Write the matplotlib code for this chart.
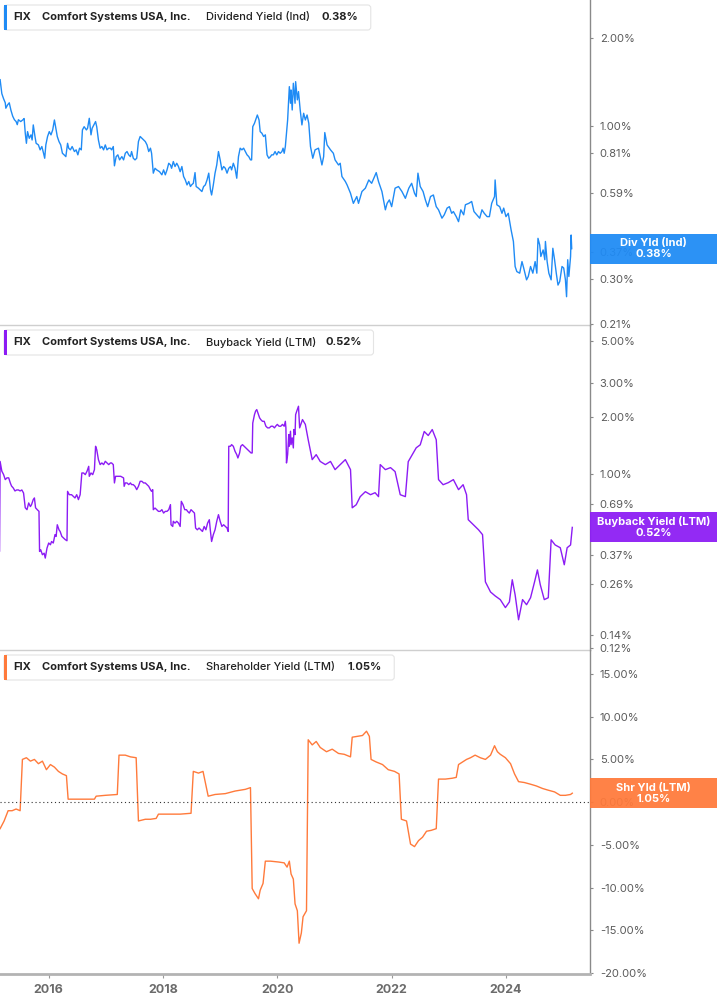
import matplotlib.pyplot as plt
from matplotlib.patches import FancyBboxPatch, Rectangle
from matplotlib.transforms import IdentityTransform
from matplotlib.ticker import NullLocator

plt.rcParams['font.family'] = ['Inter', 'DejaVu Sans']

# ---------------- DATA ----------------
# dividend yield (Ind), %, dates as decimal years
div_t = [2015.15, 2015.18, 2015.21, 2015.24, 2015.25, 2015.28, 2015.31, 2015.34, 2015.37, 2015.40,
         2015.43, 2015.45, 2015.47, 2015.51, 2015.55, 2015.57, 2015.59, 2015.61, 2015.63, 2015.66,
         2015.69, 2015.71, 2015.73, 2015.76, 2015.78, 2015.82, 2015.85, 2015.88, 2015.91, 2015.93,
         2015.95, 2015.98, 2016.01, 2016.04, 2016.07, 2016.10, 2016.12, 2016.15, 2016.18, 2016.21,
         2016.24, 2016.27, 2016.30, 2016.33, 2016.35, 2016.38, 2016.41, 2016.45, 2016.48, 2016.51,
         2016.54, 2016.57, 2016.59, 2016.62, 2016.66, 2016.68, 2016.71, 2016.74, 2016.76, 2016.79,
         2016.82, 2016.84, 2016.87, 2016.90, 2016.93, 2016.96, 2016.99, 2017.02, 2017.05, 2017.08,
         2017.10, 2017.13, 2017.15, 2017.18, 2017.21, 2017.24, 2017.28, 2017.31, 2017.34, 2017.37,
         2017.40, 2017.43, 2017.45, 2017.48, 2017.51, 2017.54, 2017.57, 2017.60, 2017.65, 2017.69,
         2017.72, 2017.75, 2017.78, 2017.80, 2017.83, 2017.86, 2017.89, 2017.94, 2017.98, 2018.01,
         2018.04, 2018.07, 2018.10, 2018.13, 2018.15, 2018.18, 2018.21, 2018.24, 2018.27, 2018.30,
         2018.33, 2018.36, 2018.39, 2018.42, 2018.45, 2018.48, 2018.50, 2018.53, 2018.56, 2018.58,
         2018.62, 2018.65, 2018.68, 2018.71, 2018.74, 2018.77, 2018.80, 2018.83, 2018.85, 2018.88,
         2018.91, 2018.94, 2018.97, 2019.00, 2019.03, 2019.06, 2019.09, 2019.12, 2019.15, 2019.18,
         2019.20, 2019.23, 2019.26, 2019.29, 2019.32, 2019.35, 2019.38, 2019.41, 2019.44, 2019.47,
         2019.50, 2019.53, 2019.55, 2019.57, 2019.60, 2019.63, 2019.65, 2019.68, 2019.70, 2019.73,
         2019.76, 2019.79, 2019.82, 2019.85, 2019.88, 2019.90, 2019.93, 2019.96, 2019.99, 2020.02,
         2020.05, 2020.08, 2020.10, 2020.12, 2020.14, 2020.17, 2020.18, 2020.21, 2020.23, 2020.24,
         2020.26, 2020.28, 2020.31, 2020.32, 2020.35, 2020.37, 2020.40, 2020.43, 2020.46, 2020.49,
         2020.52, 2020.55, 2020.58, 2020.62, 2020.66, 2020.72, 2020.78, 2020.81, 2020.83, 2020.87,
         2020.93, 2020.98, 2021.01, 2021.07, 2021.10, 2021.13, 2021.19, 2021.22, 2021.28, 2021.33,
         2021.39, 2021.42, 2021.48, 2021.54, 2021.60, 2021.65, 2021.73, 2021.77, 2021.83, 2021.89,
         2021.92, 2021.96, 2022.00, 2022.06, 2022.12, 2022.18, 2022.24, 2022.30, 2022.35, 2022.40,
         2022.43, 2022.46, 2022.50, 2022.55, 2022.59, 2022.63, 2022.68, 2022.73, 2022.78, 2022.82,
         2022.88, 2022.92, 2022.97, 2023.01, 2023.05, 2023.08, 2023.13, 2023.17, 2023.21, 2023.26,
         2023.29, 2023.35, 2023.40, 2023.44, 2023.49, 2023.54, 2023.58, 2023.62, 2023.67, 2023.71,
         2023.75, 2023.80, 2023.81, 2023.84, 2023.89, 2023.93, 2023.96, 2024.00, 2024.04, 2024.09,
         2024.13, 2024.16, 2024.19, 2024.24, 2024.28, 2024.31, 2024.36, 2024.39, 2024.43, 2024.47,
         2024.51, 2024.54, 2024.56, 2024.59, 2024.61, 2024.65, 2024.68, 2024.69, 2024.72, 2024.75,
         2024.79, 2024.82, 2024.85, 2024.88, 2024.91, 2024.94, 2024.98, 2025.01, 2025.04, 2025.06,
         2025.08, 2025.10, 2025.13, 2025.14, 2025.15]
div_v = [1.44, 1.29, 1.24, 1.20, 1.15, 1.18, 1.20, 1.13, 1.08, 1.05,
         1.035, 1.01, 1.05, 1.035, 1.05, 1.06, 0.944, 0.872, 0.956, 0.907,
         0.932, 0.895, 1.008, 0.92, 0.872, 0.861, 0.828, 0.85, 0.806, 0.775,
         0.861, 0.92, 0.956, 0.932, 0.969, 1.048, 0.994, 0.92, 0.884, 0.861,
         0.806, 0.796, 0.785, 0.872, 0.839, 0.828, 0.85, 0.817, 0.828, 0.796,
         0.839, 0.828, 0.969, 0.994, 0.969, 0.982, 1.062, 0.932, 0.982, 1.008,
         1.035, 0.994, 0.895, 0.839, 0.85, 0.828, 0.861, 0.828, 0.839, 0.839,
         0.828, 0.85, 0.73, 0.785, 0.796, 0.765, 0.785, 0.765, 0.806, 0.817,
         0.796, 0.785, 0.817, 0.775, 0.765, 0.775, 0.884, 0.92, 0.90, 0.884,
         0.861, 0.817, 0.839, 0.806, 0.689, 0.716, 0.707, 0.697, 0.68, 0.707,
         0.68, 0.707, 0.745, 0.735, 0.716, 0.755, 0.726, 0.745, 0.726, 0.697,
         0.726, 0.671, 0.653, 0.628, 0.645, 0.62, 0.628, 0.636, 0.692, 0.62,
         0.612, 0.604, 0.596, 0.62, 0.628, 0.653, 0.689, 0.604, 0.58, 0.628,
         0.689, 0.735, 0.817, 0.765, 0.707, 0.726, 0.716, 0.689, 0.716, 0.726,
         0.707, 0.745, 0.716, 0.662, 0.785, 0.839, 0.828, 0.839, 0.817, 0.796,
         0.785, 0.765, 0.765, 0.994, 1.021, 1.062, 1.09, 1.048, 0.956, 0.944,
         0.92, 0.932, 0.796, 0.775, 0.785, 0.796, 0.796, 0.817, 0.796, 0.817,
         0.806, 0.817, 0.839, 0.806, 0.85, 0.994, 1.048, 1.363, 1.196, 1.328,
         1.134, 1.40, 1.196, 1.418, 1.228, 1.311, 1.134, 1.008, 1.105, 1.048,
         1.09, 1.021, 0.85, 0.775, 0.828, 0.839, 0.735, 0.785, 0.949, 0.861,
         0.828, 0.806, 0.765, 0.735, 0.745, 0.671, 0.645, 0.628, 0.588, 0.543,
         0.573, 0.543, 0.596, 0.612, 0.653, 0.636, 0.692, 0.645, 0.596, 0.516,
         0.543, 0.558, 0.529, 0.612, 0.62, 0.596, 0.565, 0.612, 0.636, 0.588,
         0.573, 0.689, 0.62, 0.596, 0.558, 0.529, 0.573, 0.58, 0.529, 0.516,
         0.483, 0.496, 0.523, 0.529, 0.502, 0.509, 0.489, 0.47, 0.516, 0.496,
         0.537, 0.543, 0.551, 0.509, 0.496, 0.483, 0.516, 0.502, 0.489, 0.489,
         0.543, 0.573, 0.653, 0.537, 0.529, 0.502, 0.523, 0.489, 0.502, 0.44,
         0.402, 0.33, 0.317, 0.313, 0.343, 0.326, 0.297, 0.305, 0.33, 0.313,
         0.343, 0.313, 0.412, 0.391, 0.357, 0.376, 0.348, 0.402, 0.343, 0.313,
         0.297, 0.381, 0.348, 0.313, 0.285, 0.293, 0.33, 0.326, 0.297, 0.26,
         0.348, 0.305, 0.357, 0.423, 0.38]

# buyback yield (LTM), %
bb_t = [2015.14, 2015.15, 2015.18, 2015.21, 2015.24, 2015.27, 2015.30, 2015.33, 2015.35, 2015.38,
        2015.41, 2015.44, 2015.47, 2015.50, 2015.53, 2015.56, 2015.59, 2015.62, 2015.65, 2015.68,
        2015.70, 2015.73, 2015.75, 2015.77, 2015.80, 2015.83, 2015.84, 2015.86, 2015.89, 2015.92,
        2015.94, 2015.97, 2016.00, 2016.03, 2016.05, 2016.08, 2016.11, 2016.13, 2016.15, 2016.18,
        2016.20, 2016.23, 2016.26, 2016.29, 2016.32, 2016.33, 2016.36, 2016.40, 2016.43, 2016.46,
        2016.49, 2016.52, 2016.55, 2016.58, 2016.61, 2016.64, 2016.67, 2016.70, 2016.71, 2016.74,
        2016.77, 2016.80, 2016.82, 2016.84, 2016.87, 2016.90, 2016.93, 2016.96, 2016.99, 2017.02,
        2017.05, 2017.08, 2017.10, 2017.13, 2017.15, 2017.17, 2017.20, 2017.23, 2017.26, 2017.31,
        2017.32, 2017.34, 2017.37, 2017.40, 2017.43, 2017.45, 2017.48, 2017.51, 2017.54, 2017.57,
        2017.60, 2017.63, 2017.66, 2017.69, 2017.72, 2017.75, 2017.78, 2017.80, 2017.82, 2017.83,
        2017.86, 2017.89, 2017.92, 2017.95, 2017.98, 2018.01, 2018.04, 2018.07, 2018.10, 2018.13,
        2018.14, 2018.17, 2018.18, 2018.21, 2018.24, 2018.27, 2018.30, 2018.32, 2018.35, 2018.38,
        2018.41, 2018.43, 2018.46, 2018.49, 2018.52, 2018.55, 2018.57, 2018.60, 2018.63, 2018.66,
        2018.69, 2018.72, 2018.75, 2018.78, 2018.81, 2018.83, 2018.85, 2018.88, 2018.91, 2018.94,
        2018.97, 2019.00, 2019.03, 2019.06, 2019.09, 2019.12, 2019.14, 2019.15, 2019.18, 2019.20,
        2019.23, 2019.26, 2019.29, 2019.31, 2019.34, 2019.36, 2019.39, 2019.42, 2019.45, 2019.48,
        2019.51, 2019.54, 2019.56, 2019.57, 2019.60, 2019.62, 2019.64, 2019.66, 2019.69, 2019.71,
        2019.74, 2019.77, 2019.80, 2019.83, 2019.86, 2019.89, 2019.92, 2019.95, 2019.97, 2020.00,
        2020.03, 2020.06, 2020.09, 2020.12, 2020.14, 2020.15, 2020.16, 2020.18, 2020.20, 2020.21,
        2020.23, 2020.24, 2020.26, 2020.28, 2020.29, 2020.31, 2020.32, 2020.34, 2020.37, 2020.39,
        2020.44, 2020.49, 2020.54, 2020.61, 2020.68, 2020.75, 2020.84, 2020.93, 2021.01, 2021.10,
        2021.19, 2021.28, 2021.31, 2021.38, 2021.45, 2021.54, 2021.63, 2021.71, 2021.77, 2021.80,
        2021.89, 2021.98, 2022.06, 2022.15, 2022.24, 2022.29, 2022.36, 2022.43, 2022.50, 2022.57,
        2022.64, 2022.71, 2022.78, 2022.82, 2022.90, 2022.99, 2023.08, 2023.17, 2023.25, 2023.31,
        2023.34, 2023.43, 2023.52, 2023.59, 2023.64, 2023.73, 2023.81, 2023.90, 2023.99, 2024.06,
        2024.11, 2024.16, 2024.22, 2024.29, 2024.36, 2024.43, 2024.50, 2024.55, 2024.60, 2024.67,
        2024.74, 2024.79, 2024.86, 2024.95, 2025.02, 2025.07, 2025.13, 2025.16]
bb_v = [0.39, 1.16, 1.03, 0.99, 0.93, 0.95, 0.95, 0.89, 0.86, 0.84,
        0.81, 0.82, 0.82, 0.81, 0.82, 0.79, 0.66, 0.645, 0.70, 0.67,
        0.686, 0.73, 0.744, 0.66, 0.645, 0.632, 0.388, 0.396, 0.373, 0.38,
        0.358, 0.404, 0.43, 0.421, 0.438, 0.43, 0.476, 0.466, 0.537, 0.505,
        0.495, 0.466, 0.457, 0.448, 0.442, 0.806, 0.774, 0.774, 0.759, 0.744,
        0.774, 0.729, 0.774, 1.008, 1.008, 0.988, 1.029, 1.093, 0.968, 1.008,
        0.988, 1.05, 1.395, 1.34, 1.186, 1.116, 1.139, 1.116, 1.162, 1.139,
        1.116, 1.139, 1.139, 1.116, 0.893, 0.968, 0.968, 0.968, 0.968, 0.949,
        0.857, 0.893, 0.893, 0.875, 0.893, 0.875, 0.875, 0.857, 0.823, 0.857,
        0.911, 0.911, 0.893, 0.893, 0.875, 0.857, 0.823, 0.806, 0.823, 0.645,
        0.658, 0.645, 0.632, 0.632, 0.645, 0.619, 0.632, 0.632, 0.645, 0.686,
        0.537, 0.526, 0.56, 0.548, 0.56, 0.548, 0.526, 0.714, 0.686, 0.645,
        0.645, 0.632, 0.619, 0.645, 0.632, 0.619, 0.516, 0.505, 0.516, 0.505,
        0.495, 0.526, 0.505, 0.548, 0.571, 0.495, 0.438, 0.476, 0.505, 0.56,
        0.607, 0.56, 0.526, 0.537, 0.526, 0.516, 0.495, 1.395, 1.395, 1.423,
        1.395, 1.312, 1.26, 1.21, 1.286, 1.395, 1.423, 1.395, 1.367, 1.34,
        1.312, 1.286, 1.286, 1.85, 2.05, 2.14, 2.18, 2.09, 1.97, 1.93,
        1.89, 1.89, 1.78, 1.745, 1.745, 1.78, 1.78, 1.745, 1.78, 1.82,
        1.78, 1.78, 1.82, 1.78, 1.89, 1.745, 1.139, 1.26, 1.608, 1.395,
        1.675, 1.423, 1.545, 1.367, 1.71, 1.608, 2.05, 2.14, 2.27, 1.745,
        1.93, 1.82, 1.51, 1.186, 1.26, 1.16, 1.116, 1.16, 1.05, 1.116,
        1.186, 1.05, 0.66, 0.685, 0.756, 0.803, 0.774, 0.793, 0.756, 1.116,
        1.05, 1.076, 1.025, 0.774, 0.756, 1.157, 1.26, 1.37, 1.42, 1.67,
        1.59, 1.71, 1.51, 0.93, 0.874, 0.896, 0.93, 0.823, 0.874, 0.774,
        0.571, 0.537, 0.505, 0.476, 0.268, 0.237, 0.226, 0.216, 0.196, 0.21,
        0.275, 0.229, 0.169, 0.216, 0.203, 0.221, 0.268, 0.31, 0.259, 0.216,
        0.221, 0.447, 0.42, 0.406, 0.33, 0.406, 0.42, 0.52]

# shareholder yield (LTM), %
shy_t = [2015.15, 2015.22, 2015.29, 2015.36, 2015.43, 2015.50, 2015.54, 2015.61, 2015.68, 2015.75,
         2015.82, 2015.89, 2015.96, 2016.03, 2016.10, 2016.17, 2016.24, 2016.31, 2016.34, 2016.46,
         2016.64, 2016.80, 2016.83, 2016.99, 2017.20, 2017.23, 2017.34, 2017.43, 2017.53, 2017.57,
         2017.69, 2017.78, 2017.88, 2017.92, 2018.13, 2018.30, 2018.49, 2018.53, 2018.62, 2018.70,
         2018.79, 2018.91, 2019.09, 2019.26, 2019.44, 2019.53, 2019.56, 2019.61, 2019.67, 2019.70,
         2019.75, 2019.79, 2019.88, 2020.02, 2020.12, 2020.17, 2020.21, 2020.24, 2020.28, 2020.31,
         2020.35, 2020.38, 2020.42, 2020.45, 2020.51, 2020.54, 2020.61, 2020.68, 2020.75, 2020.86,
         2020.96, 2021.07, 2021.17, 2021.28, 2021.31, 2021.40, 2021.49, 2021.56, 2021.61, 2021.64,
         2021.73, 2021.84, 2021.94, 2022.05, 2022.13, 2022.17, 2022.26, 2022.33, 2022.40, 2022.47,
         2022.54, 2022.61, 2022.69, 2022.78, 2022.82, 2022.94, 2023.06, 2023.13, 2023.17, 2023.24,
         2023.31, 2023.38, 2023.46, 2023.55, 2023.64, 2023.73, 2023.80, 2023.85, 2023.90, 2023.99,
         2024.08, 2024.15, 2024.22, 2024.32, 2024.43, 2024.53, 2024.64, 2024.74, 2024.85, 2024.95,
         2025.04, 2025.13, 2025.16]
shy_v = [-3.1, -2.2, -1.0, -1.0, -0.8, -1.0, 5.0, 5.2, 4.8, 5.0,
         4.5, 4.8, 3.8, 4.4, 4.1, 3.6, 3.3, 3.1, 0.35, 0.35,
         0.35, 0.35, 0.7, 0.8, 0.9, 5.5, 5.5, 5.3, 5.2, -2.2,
         -2.0, -2.0, -1.9, -1.4, -1.4, -1.4, -1.3, 3.6, 3.4, 3.6,
         0.7, 0.9, 1.0, 1.3, 1.5, 1.7, -10.1, -10.7, -11.3, -10.3,
         -9.5, -6.9, -6.9, -7.0, -7.1, -7.6, -6.9, -8.4, -9.0, -11.9,
         -12.7, -16.5, -15.3, -13.4, -12.7, 7.3, 6.7, 7.1, 6.4, 5.9,
         6.2, 5.7, 5.6, 5.3, 7.6, 7.7, 7.8, 8.3, 7.7, 5.0,
         4.7, 4.4, 3.8, 3.6, 3.3, -2.0, -2.2, -4.9, -5.2, -4.5,
         -4.1, -3.4, -3.3, -3.1, 2.7, 2.7, 2.8, 2.9, 4.4, 4.7,
         5.0, 5.2, 5.5, 5.2, 5.0, 5.5, 6.6, 5.9, 5.6, 5.2,
         4.5, 3.3, 2.4, 2.3, 2.1, 1.9, 1.6, 1.4, 1.2, 0.8,
         0.8, 0.9, 1.05]

div_ticks = [2.00, 1.00, 0.81, 0.59, 0.37, 0.30, 0.21]
bb_ticks = [5.00, 3.00, 2.00, 1.00, 0.69, 0.37, 0.26, 0.14, 0.12]
shy_ticks = [15, 10, 5, 0, -5, -10, -15, -20]
year_ticks = [2016, 2018, 2020, 2022, 2024]

ticker_name = "FIX"
company = "Comfort Systems USA, Inc."

# ---------------- PLOT ----------------
W, H = 717, 1005
fig = plt.figure(figsize=(W / 100, H / 100), dpi=100)
fig.patch.set_facecolor("white")

RIGHT = 590  # px, right edge of plotting area

panels = [
    # top px, bottom px, t, v, ticks, log, ylim, color, long name, short name, last label
    dict(top=0, bot=325, t=div_t, v=div_v, ticks=div_ticks, log=True, ylim=(0.208, 2.70),
         color="#1f8bf5", name="Dividend Yield (Ind)", short="Div Yld (Ind)", last="0.38%",
         val_x=322),
    dict(top=325, bot=650, t=bb_t, v=bb_v, ticks=bb_ticks, log=True, ylim=(0.117, 6.1),
         color="#8c1cf4", name="Buyback Yield (LTM)", short="Buyback Yield (LTM)", last="0.52%",
         val_x=325),
    dict(top=650, bot=974, t=shy_t, v=shy_v, ticks=shy_ticks, log=False, ylim=(-20.1, 17.8),
         color="#ff7a3b", name="Shareholder Yield (LTM)", short="Shr Yld (LTM)", last="1.05%",
         val_x=348),
]

axes = []
for p in panels:
    ax = fig.add_axes([0, 1 - p["bot"] / H, RIGHT / W, (p["bot"] - p["top"]) / H])
    axes.append(ax)
    ax.plot(p["t"], p["v"], color=p["color"], lw=1.0)
    if p["log"]:
        ax.set_yscale("log")
        ax.yaxis.set_minor_locator(NullLocator())
    ax.set_ylim(*p["ylim"])
    ax.set_xlim(2015.148, 2025.47)

    ax.yaxis.tick_right()
    ax.set_yticks(p["ticks"])
    ax.set_yticklabels([f"{v:.2f}%" for v in p["ticks"]])
    ax.tick_params(axis="y", direction="out", length=2, width=0.8, color="#888888",
                   labelcolor="#5a5a5a", labelsize=8, pad=5)

    for s in ["top", "left"]:
        ax.spines[s].set_visible(False)
    ax.spines["right"].set_color("#8a8a8a")
    ax.spines["right"].set_linewidth(1.0)
    ax.spines["bottom"].set_color("#cfcfcf")
    ax.spines["bottom"].set_linewidth(1.0)
    ax.set_facecolor("none")

    # ---- title box ----
    y0 = H - p["top"] - 30
    box = FancyBboxPatch((4, y0), p["box_w"] if "box_w" in p else 0, 25,
                         boxstyle="round,pad=0,rounding_size=3", transform=IdentityTransform(),
                         fc="white", ec="#e4e4e4", lw=0.8, zorder=6)
    ty = H - p["top"] - 17
    pieces = [(13, ticker_name, "bold"), (42, company, "bold"),
              (206, p["name"], "medium"), (p["val_x"], p["last"], "bold")]
    texts = []
    for x, s, w in pieces:
        texts.append(fig.text(x, ty, s, transform=IdentityTransform(), fontsize=8,
                              fontweight=w, color="#222222", va="center", ha="left", zorder=8))
    # size the box to the text
    fig.canvas.draw()
    r = fig.canvas.get_renderer()
    end = texts[-1].get_window_extent(r).x1 + 12
    box.set_width(end - 4)
    fig.patches.append(box)
    fig.patches.append(Rectangle((4, y0), 3, 25, transform=IdentityTransform(),
                                 fc=p["color"], ec="none", zorder=7))

    # ---- last value label at right ----
    yd = ax.transData.transform((p["t"][-1], p["v"][-1]))[1]
    fig.patches.append(Rectangle((RIGHT, yd - 15), W - RIGHT, 30, transform=IdentityTransform(),
                                 fc=p["color"], ec="none", alpha=0.94, zorder=6))
    cx = (RIGHT + W) / 2
    fig.text(cx, yd + 5.5, p["short"], transform=IdentityTransform(), color="white",
             fontsize=8, fontweight="bold", ha="center", va="center", zorder=8)
    fig.text(cx, yd - 5.5, p["last"], transform=IdentityTransform(), color="white",
             fontsize=8, fontweight="bold", ha="center", va="center", zorder=8)

for ax in axes[:2]:
    ax.set_xticks([])

ax3 = axes[2]
ax3.axhline(0, color="#333333", lw=0.8, ls=(0, (1, 2.5)))
ax3.spines["bottom"].set_color("#b3b3b3")
ax3.spines["bottom"].set_linewidth(2.0)
ax3.set_xticks(year_ticks)
ax3.set_xticklabels([str(y) for y in year_ticks], fontweight="bold")
ax3.tick_params(axis="x", direction="out", length=3, width=0.8, color="#999999",
                labelcolor="#6b6b6b", labelsize=9, pad=4)

fig.savefig("out.png", dpi=100)
